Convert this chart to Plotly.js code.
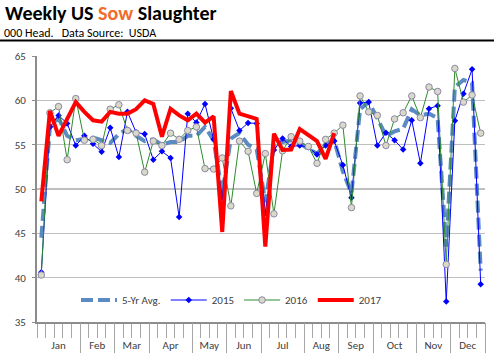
<!DOCTYPE html>
<html>
<head>
<meta charset="utf-8">
<script src="https://cdn.plot.ly/plotly-3.0.1.min.js"></script>
<style>
html,body{margin:0;padding:0;background:#fff;}
#chart{width:494px;height:359px;}
</style>
</head>
<body>
<div id="chart"></div>
<script>
// ---- data (weekly sow slaughter, 000 head) ----
const monthNames = ['Jan','Feb','Mar','Apr','May','Jun','Jul','Aug','Sep','Oct','Nov','Dec'];
const monthWeeks = [5,4,4,5,4,4,5,4,4,5,4,4];

const avg5yr = [44.5, 57.0, 58.0, 56.0, 55.5, 55.6, 55.8, 55.5, 55.2, 56.2, 56.8, 56.0,
  55.4, 55.6, 55.0, 55.3, 55.3, 56.0, 56.0, 57.0, 55.5, 49.5, 55.7, 56.3, 55.0, 54.5,
  48.5, 54.8, 55.3, 55.5, 55.2, 54.5, 54.0, 55.0, 55.5, 52.0, 49.5, 59.0, 59.8, 58.0,
  56.0, 56.5, 56.8, 59.0, 58.3, 58.5, 58.0, 43.5, 61.5, 62.3, 62.0, 40.8];

const y2015 = [40.6, 57.0, 58.3, 57.4, 54.9, 56.0, 55.1, 54.2, 56.9, 53.6, 58.7, 56.4,
  56.2, 53.3, 54.25, 53.5, 46.85, 58.5, 57.5, 59.6, 55.6, 49.0, 59.1, 56.6, 57.45, 57.4,
  47.3, 54.4, 55.7, 54.8, 54.9, 54.7, 53.9, 54.9, 55.4, 52.7, 49.0, 59.7, 59.8, 54.9,
  56.35, 55.5, 54.45, 57.75, 52.9, 59.05, 59.4, 37.3, 57.7, 60.75, 63.5, 39.25];

const y2016 = [40.3, 58.6, 59.3, 53.3, 60.2, 55.5, 55.6, 54.9, 59.0, 59.5, 56.6, 56.3,
  51.9, 55.4, 54.9, 56.3, 55.6, 56.6, 57.0, 52.3, 52.25, 53.5, 48.1, 55.4, 54.25, 49.5,
  54.0, 47.2, 54.3, 55.9, 55.4, 54.8, 52.9, 55.6, 56.3, 57.2, 47.9, 60.5, 58.7, 58.3,
  54.9, 57.9, 58.6, 60.5, 58.05, 61.5, 61.0, 41.5, 63.6, 59.8, 60.6, 56.3];

const y2017 = [48.6, 58.8, 56.0, 58.0, 59.8, 58.7, 57.75, 57.6, 58.7, 58.5, 58.5, 59.0,
  60.0, 59.6, 55.9, 59.05, 58.3, 57.75, 58.5, 57.5, 58.2, 45.15, 61.05, 58.5, 58.2, 57.9,
  43.5, 56.25, 54.4, 54.45, 56.75, 56.1, 55.4, 53.4, 56.3];

// ---- layout constants ----
const W = 494, H = 359;
const M = {l: 37, r: 9, t: 56, b: 37};
const PW = W - M.l - M.r, PH = H - M.t - M.b;
const px = v => (v - M.l) / PW;          // pixel x -> paper x
const py = v => (H - M.b - v) / PH;      // pixel y -> paper y

const idx = arr => arr.map((_, i) => i);
const xRange = [-0.5, avg5yr.length - 0.5];

// month boundaries (between categories) and centres
const bounds = [], centers = [];
let start = 0;
monthWeeks.forEach(n => {
  centers.push(start + (n - 1) / 2);
  start += n;
  bounds.push(start - 0.5);
});

const FONT = 'Calibri, Carlito, Lato, "Open Sans", sans-serif';

const traces = [
  {x: idx(avg5yr), y: avg5yr, name: '5-Yr Avg.', type: 'scatter', mode: 'lines',
   line: {color: 'rgba(74,126,187,0.9)', width: 4, dash: '12px,5px'}},
  {x: idx(y2015), y: y2015, name: '2015', type: 'scatter', mode: 'lines+markers',
   line: {color: '#0000ff', width: 1},
   marker: {symbol: 'diamond', size: 5, color: '#0000ff'}},
  {x: idx(y2016), y: y2016, name: '2016', type: 'scatter', mode: 'lines+markers',
   line: {color: '#2e8b2e', width: 1},
   marker: {symbol: 'circle', size: 6.5, color: '#d9d9c8', line: {color: '#8f86a8', width: 1}}},
  {x: idx(y2017), y: y2017, name: '2017', type: 'scatter', mode: 'lines',
   line: {color: '#ff0000', width: 4}},
  {x: [], y: [], xaxis: 'x2', showlegend: false, hoverinfo: 'skip'},
  {x: [], y: [], xaxis: 'x3', showlegend: false, hoverinfo: 'skip'}
];

const layout = {
  width: W, height: H,
  margin: M,
  paper_bgcolor: '#fff', plot_bgcolor: '#fff',
  font: {family: FONT, size: 11, color: '#404040'},
  showlegend: true,
  title: {
    text: '<b>Weekly US <span style="color:#f26b2a">Sow</span> Slaughter</b>',
    font: {family: FONT, size: 20, color: '#000'},
    xref: 'container', yref: 'container',
    x: 5 / W, xanchor: 'left',
    y: 1 - 13 / H, yanchor: 'middle'
  },
  annotations: [{
    text: '000 Head.\u00a0\u00a0 Data Source:\u00a0 USDA',
    xref: 'paper', yref: 'paper',
    x: px(2), xanchor: 'left',
    y: py(33), yanchor: 'middle',
    showarrow: false,
    font: {family: FONT, size: 12, color: '#000'}
  }],
  shapes: [{
    type: 'line', xref: 'paper', yref: 'paper',
    x0: px(0), x1: px(W), y0: py(40.5), y1: py(40.5),
    line: {color: '#000', width: 2}
  }],
  legend: {
    orientation: 'h',
    x: px(76), xanchor: 'left',
    y: py(300), yanchor: 'middle',
    bgcolor: 'rgba(0,0,0,0)',
    font: {family: FONT, size: 11, color: '#404040'},
    itemwidth: 36,
    traceorder: 'normal'
  },
  xaxis: {
    range: xRange, tickmode: 'linear', tick0: -0.5, dtick: 1,
    ticks: 'outside', ticklen: 14, tickcolor: '#a6a6a6', tickwidth: 1,
    showticklabels: false, showgrid: false, zeroline: false,
    showline: true, linecolor: '#8c8c8c', linewidth: 2, fixedrange: true
  },
  xaxis2: {
    overlaying: 'x', anchor: 'y', side: 'bottom', range: xRange,
    tickmode: 'array', tickvals: bounds,
    ticks: 'outside', ticklen: 30, tickcolor: '#a6a6a6', tickwidth: 1,
    showticklabels: false, showgrid: false, zeroline: false, showline: false
  },
  xaxis3: {
    overlaying: 'x', anchor: 'y', side: 'bottom', range: xRange,
    tickmode: 'array', tickvals: centers, ticktext: monthNames,
    ticks: 'outside', ticklen: 13, tickcolor: 'rgba(0,0,0,0)',
    tickfont: {family: FONT, size: 11, color: '#404040'},
    showgrid: false, zeroline: false, showline: false
  },
  yaxis: {
    range: [35, 65], tickmode: 'linear', tick0: 35, dtick: 5,
    ticks: 'outside', ticklen: 3, tickcolor: '#8c8c8c',
    tickfont: {family: FONT, size: 11, color: '#404040'},
    ticklabelstandoff: 4,
    showgrid: true, gridcolor: '#bfbfbf', gridwidth: 1.5,
    zeroline: false, showline: true, linecolor: '#8c8c8c', linewidth: 2
  }
};

Plotly.newPlot('chart', traces, layout, {staticPlot: true, displayModeBar: false});
</script>
</body>
</html>
